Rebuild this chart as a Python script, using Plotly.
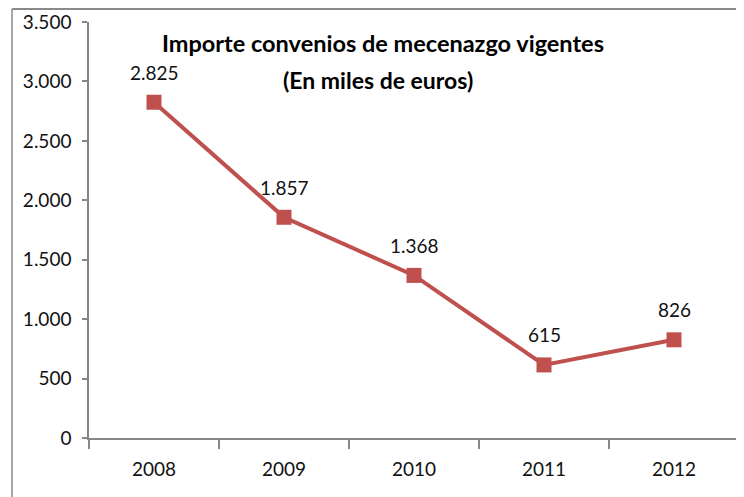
import plotly.graph_objects as go

years = ["2008", "2009", "2010", "2011", "2012"]
importe = [2825, 1857, 1368, 615, 826]
y_ticks = [0, 500, 1000, 1500, 2000, 2500, 3000, 3500]
title_text = "Importe convenios de mecenazgo vigentes"
subtitle_text = "(En miles de euros)"

W, H = 744, 497
OFF = 8  # page body margin offset of the figure div
# target plot-area edges in screen pixels
SX0, SX1, SY0, SY1 = 89, 739, 22, 438
L, T = SX0 - OFF, SY0 - OFF
R = W - (SX1 - OFF)
B = H - (SY1 - OFF)
pw, ph = W - L - R, H - T - B

def px_x(x):  # screen px -> paper
    return (x - SX0) / pw

def px_y(y):
    return (SY1 - y) / ph

FONT = "Lato, Carlito, Calibri, sans-serif"
RED = "#C0504D"
AX = "#868686"

fig = go.Figure()
fig.add_trace(go.Scatter(
    x=years, y=importe, mode="lines+markers",
    line=dict(color=RED, width=4),
    marker=dict(symbol="square", size=15, color=RED),
    hoverinfo="skip", cliponaxis=False,
))

for i, yv in enumerate(importe):
    fig.add_annotation(x=i, y=yv, text=f"{yv:,}".replace(",", "."), showarrow=False,
                       yshift=30, font=dict(family=FONT, size=19, color="#111"))

fig.add_annotation(xref="paper", yref="paper", x=px_x(383), y=px_y(43), text=f"<b>{title_text}</b>",
                   xanchor="center", yanchor="middle",
                   showarrow=False, font=dict(family=FONT, size=23.5, color="#000"))
fig.add_annotation(xref="paper", yref="paper", x=px_x(378), y=px_y(80), text=f"<b>{subtitle_text}</b>",
                   xanchor="center", yanchor="middle",
                   showarrow=False, font=dict(family=FONT, size=23, color="#000"))

# outer chart border (cropped on right and bottom)
fig.add_shape(type="line", xref="paper", yref="paper", x0=px_x(12), x1=px_x(12), y0=px_y(H + 20), y1=px_y(9),
              line=dict(color="#8a8a8a", width=1.5))
fig.add_shape(type="line", xref="paper", yref="paper", x0=px_x(12), x1=px_x(W + 20), y0=px_y(9), y1=px_y(9),
              line=dict(color="#8a8a8a", width=2))

fig.update_layout(
    width=W, height=H, margin=dict(l=L, r=R, t=T, b=B),
    paper_bgcolor="white", plot_bgcolor="white",
    separators=",.", showlegend=False,
    font=dict(family=FONT, size=19, color="#111"),
)
fig.update_xaxes(type="category", range=[-0.5, len(years) - 0.5], showline=True, linecolor=AX, linewidth=1.5,
                 ticks="outside", ticklen=9, tickcolor=AX, tickwidth=1.5, tickangle=0, automargin=False,
                 tickson="boundaries", showgrid=False, zeroline=False,
                 ticklabelstandoff=13, tickfont=dict(family=FONT, size=19, color="#111"))
fig.update_yaxes(range=[0, 3500], tickvals=y_ticks, tickformat=",d", showline=True, linecolor=AX, linewidth=1.5,
                 ticks="outside", ticklen=5, tickcolor=AX, tickwidth=1.5, showgrid=False, zeroline=False,
                 automargin=False,
                 ticklabelstandoff=7, tickfont=dict(family=FONT, size=19, color="#111"))

fig.write_html("out.html")
